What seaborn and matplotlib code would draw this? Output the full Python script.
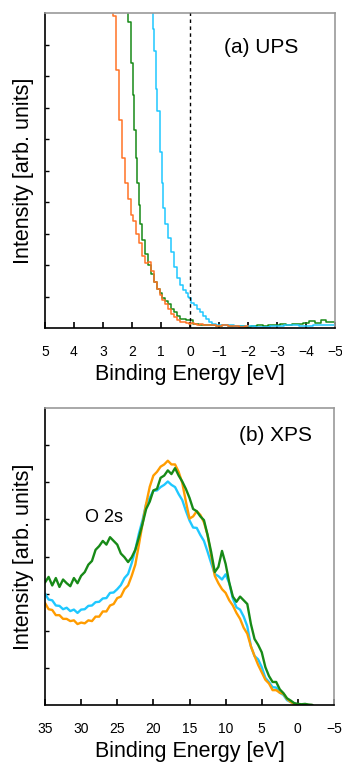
import numpy as np
import pandas as pd
import matplotlib
matplotlib.use("Agg")
import matplotlib.pyplot as plt
import seaborn as sns

# ---------------- UPS data (binding energy, intensity) ----------------
ups_orange_be = [2.8, 2.7, 2.6, 2.5, 2.4, 2.3, 2.2, 2.1, 2.0, 1.9, 1.8, 1.7, 1.6, 1.5, 1.4,
                 1.3, 1.2, 1.1, 1.0, 0.9, 0.8, 0.7, 0.6, 0.5, 0.4, 0.3, 0.2, 0.1, 0.0,
                 -0.1, -0.2, -0.3, -0.4, -0.5, -0.6, -0.8, -1.0, -1.2, -1.4, -1.6, -1.8, -2.0]
ups_orange_i = [11.5, 10.6, 9.9, 8.2, 6.6, 5.4, 4.6, 4.1, 3.6, 3.4, 3.0, 2.7, 2.3, 2.05, 2.1,
                1.8, 1.45, 1.25, 1.05, 0.9, 0.75, 0.6, 0.45, 0.35, 0.25, 0.2, 0.18, 0.15, 0.14,
                0.16, 0.12, 0.1, 0.12, 0.08, 0.1, 0.08, 0.06, 0.08, 0.05, 0.06, 0.04, 0.05]

ups_green_be = [2.3, 2.2, 2.1, 2.0, 1.95, 1.9, 1.85, 1.8, 1.75, 1.7, 1.6, 1.5, 1.4, 1.3, 1.2,
                1.1, 1.0, 0.9, 0.8, 0.7, 0.6, 0.5, 0.4, 0.3, 0.2, 0.1, 0.0, -0.2, -0.4, -0.6,
                -0.8, -1.0, -1.2, -1.4, -1.6, -1.8, -2.0, -2.2, -2.4, -2.6, -2.8, -3.0, -3.2,
                -3.4, -3.6, -3.8, -4.0, -4.2, -4.4, -4.6, -4.8, -5.0]
ups_green_i = [11.0, 10.5, 9.7, 8.4, 7.4, 6.3, 5.4, 4.6, 3.9, 3.3, 2.8, 2.35, 2.0, 1.7, 1.45,
               1.25, 1.1, 0.95, 0.85, 0.75, 0.6, 0.5, 0.38, 0.3, 0.27, 0.25, 0.24, 0.12, 0.1, 0.08,
               0.1, 0.06, 0.08, 0.05, 0.07, 0.05, 0.04, 0.06, 0.08, 0.05, 0.1, 0.08, 0.12,
               0.1, 0.14, 0.12, 0.16, 0.22, 0.15, 0.24, 0.18, 0.2]

ups_cyan_be = [1.4, 1.3, 1.25, 1.2, 1.15, 1.1, 1.0, 0.95, 0.9, 0.8, 0.7, 0.6, 0.5, 0.4, 0.3,
               0.2, 0.1, 0.05, 0.0, -0.1, -0.2, -0.3, -0.4, -0.5, -0.6, -0.7, -0.8, -1.0,
               -1.2, -1.4, -1.6, -1.8, -2.0, -2.5, -3.0, -3.5, -4.0, -4.5, -5.0]
ups_cyan_i = [11.0, 10.2, 9.5, 8.8, 7.6, 6.9, 5.6, 4.6, 3.8, 3.3, 2.85, 2.4, 1.95, 1.6, 1.35,
              1.2, 1.1, 1.0, 0.95, 0.78, 0.72, 0.6, 0.5, 0.38, 0.28, 0.18, 0.14, 0.1,
              0.08, 0.1, 0.07, 0.06, 0.05, 0.04, 0.06, 0.08, 0.07, 0.1, 0.08]

# ---------------- XPS data ----------------
xps_be = [35, 34.5, 34, 33.5, 33, 32.5, 32, 31.5, 31, 30.5, 30, 29.5, 29, 28.5, 28, 27.5,
          27, 26.5, 26, 25.5, 25, 24.5, 24, 23.5, 23, 22.5, 22, 21.5, 21, 20.5, 20, 19.5,
          19, 18.5, 18, 17.5, 17, 16.5, 16, 15.5, 15, 14.5, 14, 13.5, 13, 12.5, 12, 11.5,
          11, 10.5, 10, 9.5, 9, 8.5, 8, 7.5, 7, 6.5, 6, 5.5, 5, 4.5, 4, 3.5, 3, 2.5, 2,
          1.5, 1, 0.5, 0, -0.5, -1, -1.5, -2]
xps_green = [3.3, 3.45, 3.22, 3.42, 3.18, 3.38, 3.28, 3.2, 3.42, 3.28, 3.48, 3.58, 3.78, 3.88, 4.18, 4.28,
             4.42, 4.32, 4.52, 4.42, 4.32, 4.08, 3.98, 3.85, 3.98, 4.18, 4.52, 4.88, 5.28, 5.48, 5.78, 5.82,
             6.12, 6.18, 6.32, 6.22, 6.38, 6.18, 6.02, 5.82, 5.58, 5.28, 5.22, 5.08, 4.98, 4.58, 4.12, 3.58,
             3.72, 4.15, 3.8, 3.3, 2.92, 2.78, 2.92, 2.82, 2.72, 2.18, 1.78, 1.62, 1.42, 1.02, 0.78, 0.62,
             0.62, 0.42, 0.32, 0.18, 0.12, 0.05, 0.03, 0.02, 0.03, 0.01, 0.0]
xps_orange = [2.75, 2.58, 2.56, 2.42, 2.42, 2.32, 2.32, 2.26, 2.28, 2.18, 2.22, 2.2, 2.28, 2.26, 2.38, 2.38,
              2.52, 2.52, 2.68, 2.72, 2.88, 2.92, 3.12, 3.22, 3.48, 3.78, 4.32, 4.88, 5.42, 5.88, 6.18, 6.28,
              6.42, 6.48, 6.58, 6.48, 6.48, 6.28, 5.98, 5.48, 5.02, 5.08, 5.22, 5.12, 4.92, 4.58, 4.02, 3.48,
              3.28, 3.12, 3.02, 2.82, 2.68, 2.48, 2.32, 2.08, 1.92, 1.58, 1.32, 1.08, 0.88, 0.68, 0.58, 0.4,
              0.4, 0.33, 0.3, 0.16, 0.08, 0.03, 0.01, 0.0, 0.01, 0.0, 0.0]
xps_cyan = [3.0, 2.84, 2.82, 2.68, 2.67, 2.58, 2.62, 2.53, 2.57, 2.48, 2.57, 2.58, 2.67, 2.68, 2.77, 2.78,
            2.87, 2.88, 3.02, 3.03, 3.12, 3.23, 3.42, 3.53, 3.82, 4.18, 4.62, 4.98, 5.42, 5.58, 5.77, 5.78,
            5.87, 5.93, 6.02, 5.93, 5.87, 5.68, 5.52, 5.23, 4.97, 4.78, 4.77, 4.58, 4.42, 4.13, 3.82, 3.53,
            3.47, 3.38, 3.52, 3.28, 2.87, 2.63, 2.57, 2.38, 2.12, 1.58, 1.32, 1.23, 1.02, 0.73, 0.62, 0.48,
            0.47, 0.33, 0.27, 0.13, 0.08, 0.02, 0.02, 0.0, 0.01, 0.0, 0.0]

ups_xticks = [5, 4, 3, 2, 1, 0, -1, -2, -3, -4, -5]
xps_xticks = [35, 30, 25, 20, 15, 10, 5, 0, -5]

C_ORANGE_UPS = "#ff7326"
C_ORANGE_XPS = "#ff9c00"
C_GREEN = "#178a17"
C_CYAN = "#1fc8ff"

sns.set_style("ticks")
plt.rcParams["font.family"] = ["Liberation Sans", "DejaVu Sans"]
plt.rcParams["text.color"] = "black"
plt.rcParams["axes.labelcolor"] = "black"
plt.rcParams["xtick.color"] = "black"
plt.rcParams["ytick.color"] = "black"

fig = plt.figure(figsize=(3.42, 7.63), dpi=100)
ax1 = fig.add_axes([45 / 342, 1 - 328 / 763, 290 / 342, 315 / 763])
ax2 = fig.add_axes([45 / 342, 1 - 705 / 763, 289 / 342, 297 / 763])

def draw(ax, x, y, color, lw, ds):
    df = pd.DataFrame({"x": x, "y": y})
    sns.lineplot(data=df, x="x", y="y", ax=ax, color=color, lw=lw,
                 drawstyle=ds, sort=False, estimator=None)

# UPS
draw(ax1, ups_green_be, ups_green_i, C_GREEN, 1.1, "steps-mid")
draw(ax1, ups_cyan_be, ups_cyan_i, C_CYAN, 1.1, "steps-mid")
draw(ax1, ups_orange_be, ups_orange_i, C_ORANGE_UPS, 1.1, "steps-mid")
ax1.axvline(0, color="black", lw=1.0, ls=(0, (2.5, 2.5)), zorder=5)
ax1.set_xlim(5, -5)
ax1.set_ylim(0, 10)
ax1.set_xticks(ups_xticks)
ax1.set_xticklabels([str(t) if t >= 0 else "\u2212" + str(-t) for t in ups_xticks])
ax1.set_yticks(range(1, 10))
ax1.text(0.745, 0.889, "(a) UPS", transform=ax1.transAxes, ha="center", va="center",
         fontsize=15)

# XPS
draw(ax2, xps_be, xps_cyan, C_CYAN, 1.7, "default")
draw(ax2, xps_be, xps_orange, C_ORANGE_XPS, 1.7, "default")
draw(ax2, xps_be, xps_green, C_GREEN, 1.7, "default")
ax2.set_xlim(35, -5)
ax2.set_ylim(0, 8)
ax2.set_xticks(xps_xticks)
ax2.set_xticklabels([str(t) if t >= 0 else "\u2212" + str(-t) for t in xps_xticks])
ax2.set_yticks(range(1, 8))
ax2.text(0.796, 0.909, "(b) XPS", transform=ax2.transAxes, ha="center", va="center",
         fontsize=15)
ax2.text(0.204, 0.63, "O 2s", transform=ax2.transAxes, ha="center", va="center",
         fontsize=13)

for ax in (ax1, ax2):
    for s in ("left", "bottom"):
        ax.spines[s].set_color("black")
        ax.spines[s].set_linewidth(1.2)
    for s in ("top", "right"):
        ax.spines[s].set_visible(True)
        ax.spines[s].set_color("#9a9a9a")
        ax.spines[s].set_linewidth(1.2)
    ax.tick_params(axis="x", direction="in", length=4, width=1.2, pad=12,
                   labelsize=10, colors="black")
    ax.tick_params(axis="y", direction="in", length=3, width=1, labelleft=False)
    ax.set_xlabel("Binding Energy [eV]", fontsize=15.5, labelpad=4)
    ax.set_ylabel("Intensity [arb. units]", fontsize=15.5, labelpad=8)
    ax.set_facecolor("white")

fig.savefig("out.png", dpi=100, facecolor="white")
